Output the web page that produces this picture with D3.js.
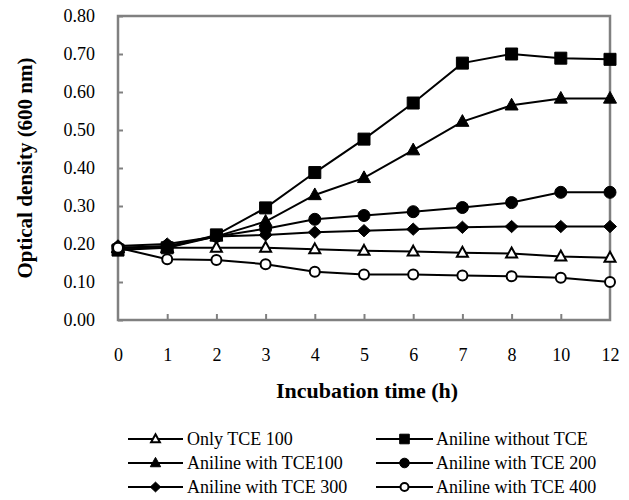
<!DOCTYPE html>
<html><head><meta charset="utf-8">
<script src="https://cdn.jsdelivr.net/npm/d3@7"></script>
<style>body{margin:0;background:#fff}svg{display:block}text{font-family:'Liberation Serif','Times New Roman',serif}</style>
</head><body>
<svg id="c" width="629" height="500"></svg>
<script>
const categories = ["0","1","2","3","4","5","6","7","8","10","12"];
const yTicks = [0,0.1,0.2,0.3,0.4,0.5,0.6,0.7,0.8];
const onlyTCE100 = [0.19,0.19,0.19,0.19,0.186,0.182,0.18,0.177,0.175,0.167,0.164];
const anilineWithoutTCE = [0.184,0.19,0.224,0.295,0.388,0.476,0.571,0.676,0.70,0.689,0.686];
const anilineTCE100 = [0.19,0.19,0.22,0.259,0.329,0.374,0.447,0.522,0.565,0.583,0.583];
const anilineTCE200 = [0.19,0.195,0.22,0.24,0.265,0.275,0.285,0.296,0.309,0.336,0.336];
const anilineTCE300 = [0.195,0.20,0.22,0.224,0.231,0.235,0.239,0.244,0.246,0.246,0.246];
const anilineTCE400 = [0.19,0.16,0.158,0.147,0.127,0.12,0.12,0.117,0.115,0.111,0.10];
const seriesNames = ["Only TCE 100","Aniline without TCE","Aniline with TCE100","Aniline with TCE 200","Aniline with TCE 300","Aniline with TCE 400"];
const seriesValues = [onlyTCE100, anilineWithoutTCE, anilineTCE100, anilineTCE200, anilineTCE300, anilineTCE400];
const markerTypes = ["triOpen","square","tri","circle","diamond","circleOpen"];

const svg = d3.select("#c");
const font = "'Liberation Serif','Times New Roman',serif";
const L = 118, R = 610, T = 16, B = 320;
const x = d3.scalePoint().domain(categories).range([L, R]).padding(0);
const y = d3.scaleLinear().domain([0, 0.8]).range([B, T]);

function markerPath(type, s) {
  const p = d3.path();
  if (type === "square") { p.rect(-s/2, -s/2, s, s); }
  else if (type === "tri" || type === "triOpen") {
    const h = s * 0.9; p.moveTo(0, -h*0.6); p.lineTo(s/2, h*0.4); p.lineTo(-s/2, h*0.4); p.closePath();
  } else if (type === "diamond") {
    p.moveTo(0, -s*0.47); p.lineTo(s/2, 0); p.lineTo(0, s*0.47); p.lineTo(-s/2, 0); p.closePath();
  } else { p.arc(0, 0, s/2, 0, 2*Math.PI); p.closePath(); }
  return p.toString();
}
const isOpen = t => t === "triOpen" || t === "circleOpen";
const sizeOf = t => ({square:12, tri:13, triOpen:11, circle:12, diamond:13, circleOpen:10})[t];

// frame
svg.append("rect").attr("x", L).attr("y", T).attr("width", R-L).attr("height", B-T)
  .attr("fill", "none").attr("stroke", "#808080").attr("stroke-width", 2.5);

// y axis
const yAxis = d3.axisLeft(y).tickValues(yTicks).tickSizeInner(-5).tickSizeOuter(0).tickPadding(23)
  .tickFormat(d3.format(".2f"));
const gy = svg.append("g").attr("transform", `translate(${L},0)`).call(yAxis);
gy.select(".domain").remove();
gy.selectAll(".tick line").attr("stroke", "#808080").attr("stroke-width", 2);
gy.selectAll(".tick text").style("font-family", font).style("font-size", "18px").attr("fill", "#000");

// x axis
const xAxis = d3.axisBottom(x).tickSizeInner(-6).tickSizeOuter(0).tickPadding(28);
const gx = svg.append("g").attr("transform", `translate(0,${B})`).call(xAxis);
gx.select(".domain").remove();
gx.selectAll(".tick line").attr("stroke", "#808080").attr("stroke-width", 2)
  .attr("display", (d,i) => (i === 0 || i === categories.length-1) ? "none" : null);
gx.selectAll(".tick text").style("font-family", font).style("font-size", "18px").attr("fill", "#000");

// titles
svg.append("text").attr("x", 367).attr("y", 398).attr("text-anchor", "middle")
  .style("font-family", font).style("font-weight", "bold").style("font-size", "22px").text("Incubation time (h)");
svg.append("text").attr("transform", `translate(32,${(T+B)/2}) rotate(-90)`).attr("text-anchor", "middle")
  .style("font-family", font).style("font-weight", "bold").style("font-size", "21px").text("Optical density (600 nm)");

// series
const line = d3.line().x((d,i) => x(categories[i])).y(d => y(d));
seriesValues.forEach((vals, k) => {
  const t = markerTypes[k];
  svg.append("path").attr("d", line(vals)).attr("fill", "none").attr("stroke", "#000").attr("stroke-width", 2);
  svg.append("g").selectAll("path").data(vals).join("path")
    .attr("transform", (d,i) => `translate(${x(categories[i])},${y(d)})`)
    .attr("d", markerPath(t, sizeOf(t)))
    .attr("fill", isOpen(t) ? "#fff" : "#000")
    .attr("stroke", "#000").attr("stroke-width", isOpen(t) ? 2 : 1);
});

// legend
const legRows = [439, 463, 487];
const legCols = [{x0:128, x1:183, tx:187}, {x0:376, x1:433, tx:436}];
seriesNames.forEach((name, k) => {
  const c = legCols[k % 2], r = legRows[Math.floor(k/2)], t = markerTypes[k];
  const g = svg.append("g");
  g.append("line").attr("x1", c.x0).attr("x2", c.x1).attr("y1", r).attr("y2", r).attr("stroke", "#000").attr("stroke-width", 2);
  g.append("path").attr("transform", `translate(${(c.x0+c.x1)/2},${r})`).attr("d", markerPath(t, sizeOf(t)*0.8))
    .attr("fill", isOpen(t) ? "#fff" : "#000").attr("stroke", "#000").attr("stroke-width", isOpen(t) ? 2 : 1);
  g.append("text").attr("x", c.tx).attr("y", r).attr("dy", "0.35em").style("font-family", font).style("font-size", "18px").text(name);
});
</script>
</body></html>
